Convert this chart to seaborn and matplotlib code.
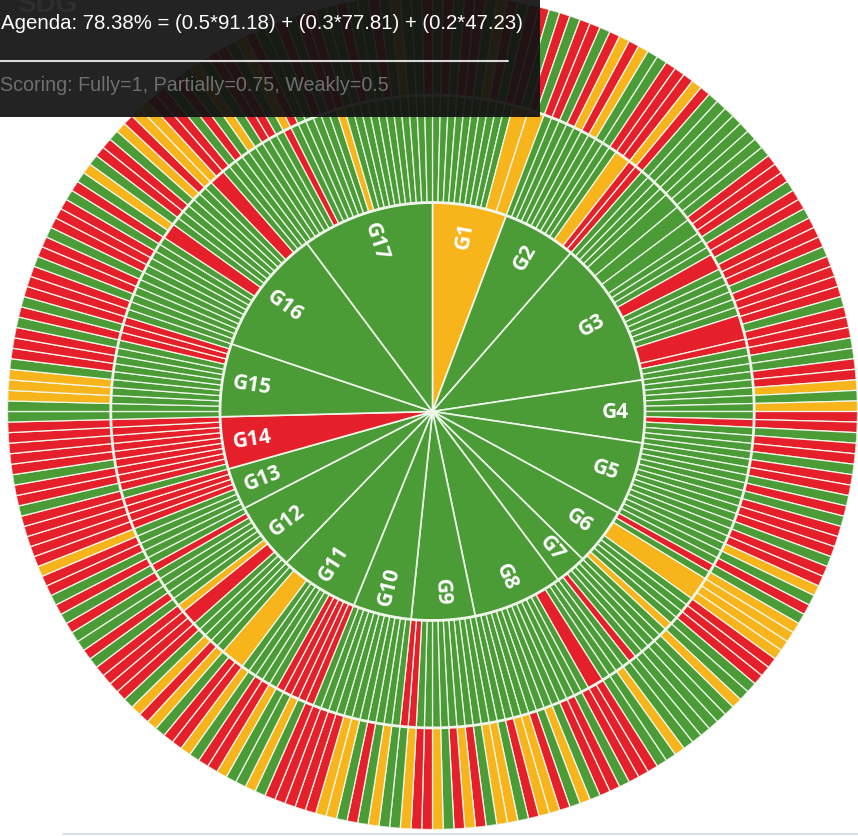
import numpy as np
import matplotlib
matplotlib.use("Agg")
import matplotlib.pyplot as plt
from matplotlib.patches import Rectangle
from matplotlib.lines import Line2D
import seaborn as sns

# ---- data ------------------------------------------------------------------
goals = ["G1", "G2", "G3", "G4", "G5", "G6", "G7", "G8", "G9",
         "G10", "G11", "G12", "G13", "G14", "G15", "G16", "G17"]
# number of indicators per goal (sets the angular size of each goal)
goal_indicators = [14, 14, 28, 12, 14, 11, 6, 17, 12, 11, 15, 13, 8, 10, 14, 24, 25]
# g = fully, y = partially, r = weakly
goal_status = ["y", "g", "g", "g", "g", "g", "g", "g", "g",
               "g", "g", "g", "g", "r", "g", "g", "g"]
# middle ring: target status, token = status + optional relative width
target_status = [
    "g g g g g g g g g g y2 y2",
    "g g g g g g g g g g y2 r r",
    "g g g g g2 g2 g2 g g g r2 g g g g g g r3 r g g",
    "g g g g g g g r g g g g",
    "g g g g g g g g g g g g g g",
    "r g y3 g g g g y g",
    "g g g g r g",
    "g g g r2 g g g g g g g g g g g g",
    "g g g g g g g g g g r r",
    "g g g g g g g g g g g",
    "r r r r r g g g g g y3 g g",
    "g g g r2 y g g g g g r g",
    "g g g g r r r r",
    "g r r r r r r r r r",
    "g g g g g g g g g g r r r g",
    "g g g g g g g g g g r2 g g g g g g g r2 g g g",
    "g g g g g g r g g g g g g y g g g g g g g g g g g",
]
# outer ring: indicator status
indicator_status = [
    "grgrrgyrgrrgrg",
    "rrgryryggrrryr",
    "ggggggggrrrgrrgrrrgrrrrgrrrg",
    "grrygyrrgrrg",
    "rrgrgrrrgrrygr",
    "gyyyyrrrggy",
    "gggggg",
    "yggrrrgrrgygryyrg",
    "yygryrgyrryg",
    "gygrgyyrrrr",
    "rgyggyrrgyrrgyr",
    "ygrrrrgrggrgr",
    "grryrrrr",
    "rgrrgrrrrr",
    "ggyyygrrrgrgrr",
    "rgrrgrrrgrgygrrgyryyrrgr",
    "gygrrgyrggrgrrggrggrgyggr",
]

title_text = "SDG"
agenda_text = "Agenda: 78.38% = (0.5*91.18) + (0.3*77.81) + (0.2*47.23)"
scoring_text = "Scoring: Fully=1, Partially=0.75, Weakly=0.5"

palette = {"g": "#4b9b37", "r": "#e6202a", "y": "#f7b41b"}
EDGE = "#eef7ea"
R_IN, R_MID, R_OUT = 0.5, 0.757, 1.0

sns.set_theme(style="white")
plt.rcParams["font.family"] = ["Liberation Sans", "DejaVu Sans"]

W, H = 858, 837
fig = plt.figure(figsize=(W / 100, H / 100), dpi=100)
fig.patch.set_facecolor("white")

# chart is slightly wider than tall in the reference
cx, cy, rx, ry = 432.5, 412.5, 425, 418
ax = fig.add_axes([(cx - rx) / W, (H - cy - ry) / H, 2 * rx / W, 2 * ry / H],
                  projection="polar")
ax.set_aspect("auto")
ax.set_theta_zero_location("N")
ax.set_theta_direction(-1)
ax.set_ylim(0, R_OUT)
ax.set_axis_off()


def parse(tokens):
    cols, ws = [], []
    for t in tokens.split():
        cols.append(t[0])
        ws.append(float(t[1:]) if len(t) > 1 else 1.0)
    return cols, np.array(ws)


unit = 2 * np.pi / sum(goal_indicators)
start = 0.0
for i, g in enumerate(goals):
    span = goal_indicators[i] * unit

    ax.bar(start, R_IN, width=span, bottom=0, align="edge",
           color=palette[goal_status[i]], edgecolor=EDGE, linewidth=1.2)

    cols, ws = parse(target_status[i])
    ws = ws / ws.sum() * span
    th = start + np.concatenate([[0], np.cumsum(ws)[:-1]])
    ax.bar(th, R_MID - R_IN, width=ws, bottom=R_IN, align="edge",
           color=[palette[c] for c in cols], edgecolor=EDGE, linewidth=0.9)

    ind = indicator_status[i]
    w2 = span / len(ind)
    th2 = start + np.arange(len(ind)) * w2
    ax.bar(th2, R_OUT - R_MID, width=w2, bottom=R_MID, align="edge",
           color=[palette[c] for c in ind], edgecolor=EDGE, linewidth=0.9)

    mid = start + span / 2
    deg = 90 - np.degrees(mid)
    rot = ((deg + 90) % 180) - 90
    ax.text(mid, 0.43, g, rotation=rot, rotation_mode="anchor",
            ha="center", va="center", color="white", fontsize=15,
            fontweight="bold", family=["Open Sans", "DejaVu Sans"])
    start += span

circ = np.linspace(0, 2 * np.pi, 720)
ax.plot(circ, np.full_like(circ, R_IN), color=EDGE, lw=2)
ax.plot(circ, np.full_like(circ, R_MID), color=EDGE, lw=2)

# tooltip overlay
fig.add_artist(Rectangle((0, 1 - 118 / H), 540 / W, 118 / H,
                         transform=fig.transFigure, facecolor="#121212",
                         alpha=0.93, edgecolor="none", zorder=5))
fig.text(17 / W, 1 - 12 / H, title_text, color="#2e2e2e", fontsize=20,
         fontweight="bold", ha="left", va="baseline", zorder=6)
fig.text(1 / W, 1 - 29 / H, agenda_text, color="white", fontsize=14.7,
         ha="left", va="baseline", zorder=6)
fig.add_artist(Line2D([0, 508 / W], [1 - 62 / H] * 2, transform=fig.transFigure,
                      color="#d9d9d9", lw=1.5, zorder=6))
fig.text(0 / W, 1 - 91 / H, scoring_text, color="#6e6e6e", fontsize=14.2,
         ha="left", va="baseline", zorder=6)

fig.add_artist(Line2D([63 / W, 1], [1 - 835 / H] * 2, transform=fig.transFigure,
                      color="#cfdbe9", lw=1.2, zorder=6))

fig.savefig("out.png", dpi=100)
